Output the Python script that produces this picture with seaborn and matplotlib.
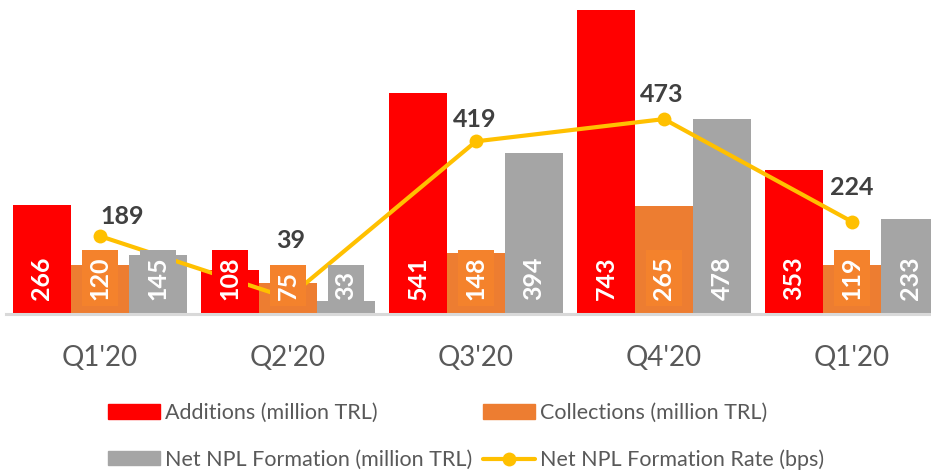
import numpy as np
import pandas as pd
import seaborn as sns
import matplotlib.pyplot as plt
from matplotlib.patches import Patch
from matplotlib.lines import Line2D

# Données
quarters = ["Q1'20", "Q2'20", "Q3'20", "Q4'20", "Q1'20"]
additions = [266, 108, 541, 743, 353]
collections = [120, 75, 148, 265, 119]
net_formation = [145, 33, 394, 478, 233]
rate_bps = [189, 39, 419, 473, 224]

series_names = ['Additions (million TRL)', 'Collections (million TRL)',
                'Net NPL Formation (million TRL)']
rate_name = 'Net NPL Formation Rate (bps)'

bar_colors = ['#FF0000', '#ED7D31', '#A5A5A5']
box_colors = ['#FF0000', '#F4822C', '#A5A5A5']
line_color = '#FFC000'

df = pd.DataFrame({
    'idx': list(range(len(quarters))) * 3,
    'value': additions + collections + net_formation,
    'series': np.repeat(series_names, len(quarters)),
})

sns.set_theme(style='white')
plt.rcParams['font.family'] = ['Lato', 'DejaVu Sans']

fig = plt.figure(figsize=(9.31, 4.73), dpi=100)
ax = fig.add_axes([6 / 931, 159 / 473, 940 / 931, 314 / 473])

# Barres groupées
sns.barplot(data=df, x='idx', y='value', hue='series', hue_order=series_names,
            palette=bar_colors, width=0.926, gap=0, saturation=1,
            linewidth=0, legend=False, ax=ax)
ax.set_xlim(-0.5, 4.5)
ax.set_ylim(0, 768)
ax.set_xticks(range(len(quarters)))
ax.set_xticklabels(quarters)
ax.set_xlabel('')
ax.set_ylabel('')
ax.set_yticks([])
ax.tick_params(axis='x', length=0, pad=22, labelsize=20, labelcolor='#595959')
for s in ['top', 'left', 'right']:
    ax.spines[s].set_visible(False)
ax.spines['bottom'].set_color('#D9D9D9')
ax.spines['bottom'].set_linewidth(2.2)

# Taux (axe secondaire)
ax2 = ax.twinx()
sns.lineplot(x=list(range(len(quarters))), y=rate_bps, ax=ax2, color=line_color,
             lw=3, marker='o', markersize=10, markeredgewidth=0, zorder=2)
ax2.set_ylim(0, 762)
ax2.axis('off')

# Étiquettes des barres
for i, cont in enumerate(ax.containers):
    for p, v in zip(cont, cont.datavalues):
        x = p.get_x() + p.get_width() / 2
        ax2.annotate(f'{int(v)}', (x, 0), xytext=(0, 10), textcoords='offset points',
                     rotation=90, ha='center', va='bottom', color='white',
                     fontsize=18, fontweight='bold', zorder=5, annotation_clip=False,
                     bbox=dict(boxstyle='square,pad=0.25', fc=box_colors[i], ec='none'))

# Étiquettes du taux
offsets = [(22, 20), (3, 57), (-1, 22), (-2, 25), (0, 34)]
for i, (v, (dx, dy)) in enumerate(zip(rate_bps, offsets)):
    ax2.annotate(f'{v}', (i, v), xytext=(dx * 0.72, dy * 0.72), textcoords='offset points',
                 ha='center', va='center', fontsize=18, fontweight='bold',
                 color='#404040', zorder=6)

# Légende
handles = [Patch(color=bar_colors[0]), Patch(color=bar_colors[2]),
           Patch(color=bar_colors[1]),
           Line2D([], [], color=line_color, lw=3, marker='o', markersize=10, markeredgewidth=0)]
labels = [series_names[0], series_names[2], series_names[1], rate_name]
fig.legend(handles, labels, loc='upper left', bbox_to_anchor=(108 / 931, 1 - 403 / 473),
           ncol=2, frameon=False, fontsize=15.5, labelcolor='#595959', borderpad=0,
           borderaxespad=0, handlelength=2.42, handleheight=0.65, handletextpad=0.23,
           columnspacing=0.5, labelspacing=1.23)

fig.savefig('out.png', dpi=100)
